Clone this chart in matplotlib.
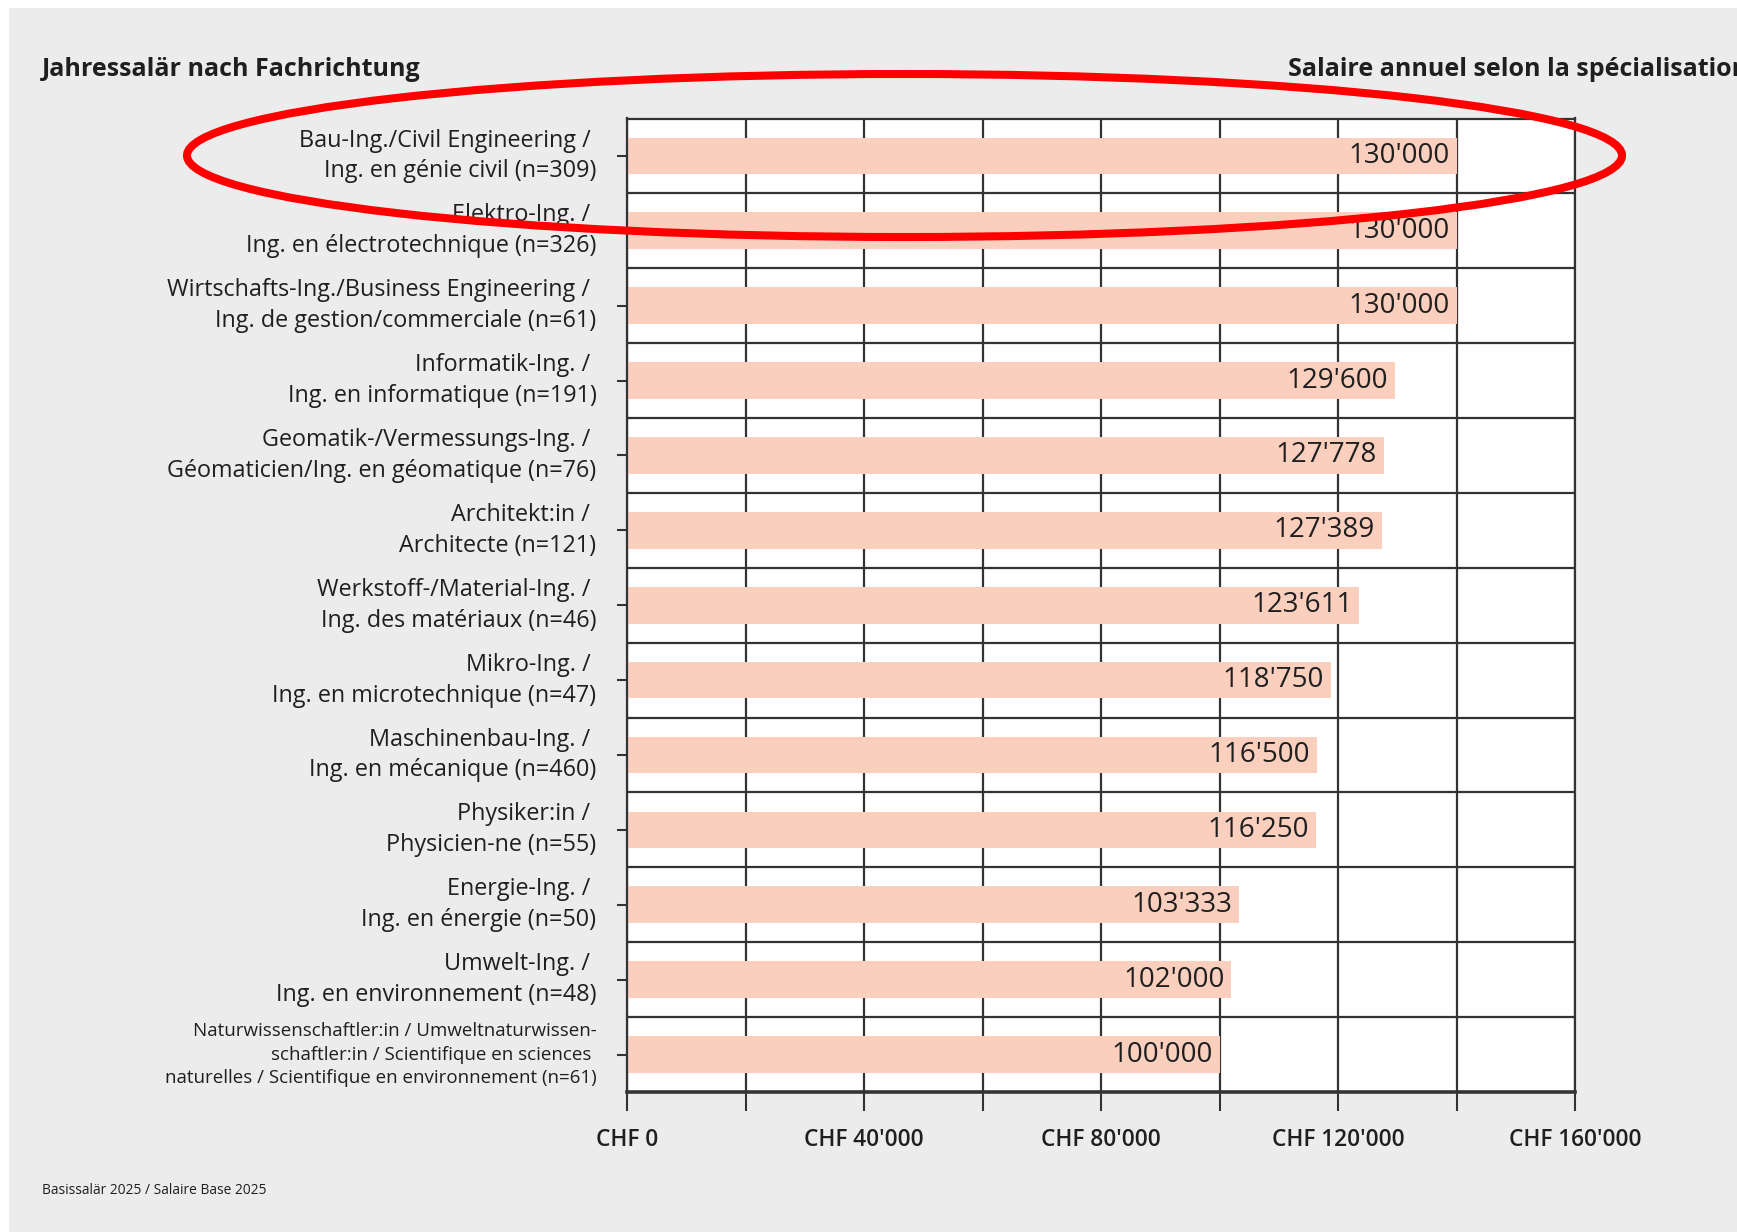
import matplotlib
matplotlib.use("Agg")
import matplotlib.pyplot as plt
from matplotlib.patches import Ellipse, Rectangle
from matplotlib.transforms import ScaledTranslation
import numpy as np

categories = [
    "Bau-Ing./Civil Engineering / \nIng. en génie civil (n=309)",
    "Elektro-Ing. / \nIng. en électrotechnique (n=326)",
    "Wirtschafts-Ing./Business Engineering / \nIng. de gestion/commerciale (n=61)",
    "Informatik-Ing. / \nIng. en informatique (n=191)",
    "Geomatik-/Vermessungs-Ing. / \nGéomaticien/Ing. en géomatique (n=76)",
    "Architekt:in / \nArchitecte (n=121)",
    "Werkstoff-/Material-Ing. / \nIng. des matériaux (n=46)",
    "Mikro-Ing. / \nIng. en microtechnique (n=47)",
    "Maschinenbau-Ing. / \nIng. en mécanique (n=460)",
    "Physiker:in / \nPhysicien-ne (n=55)",
    "Energie-Ing. / \nIng. en énergie (n=50)",
    "Umwelt-Ing. / \nIng. en environnement (n=48)",
    "Naturwissenschaftler:in / Umweltnaturwissen-\nschaftler:in / Scientifique en sciences \nnaturelles / Scientifique en environnement (n=61)",
]
# bar lengths as drawn in the picture
bar_values = [140000, 140000, 140000, 129600, 127778, 127389, 123611,
              118750, 116500, 116250, 103333, 102000, 100000]
# value labels as printed in the picture
value_labels = ["130'000", "130'000", "130'000", "129'600", "127'778", "127'389",
                "123'611", "118'750", "116'500", "116'250", "103'333", "102'000", "100'000"]
x_ticks = [0, 40000, 80000, 120000, 160000]
x_tick_labels = ["CHF 0", "CHF 40'000", "CHF 80'000", "CHF 120'000", "CHF 160'000"]
x_minor_ticks = [20000, 60000, 100000, 140000]

title_left = "Jahressalär nach Fachrichtung"
title_right = "Salaire annuel selon la spécialisation"
footer = "Basissalär 2025 / Salaire Base 2025"

FONT = "Open Sans"
TXT = "#1f1f1f"
LINE = "#333333"
BAR = "#facfbe"
BG = "#ebeceb"

W, H = 1737, 1232
fig = plt.figure(figsize=(W / 100, H / 100), dpi=100, facecolor="white")
fig.patches.append(Rectangle((9 / W, 0), 1, 1 - 8 / H, transform=fig.transFigure,
                             facecolor=BG, edgecolor="none", zorder=-10))

ax = fig.add_axes([627 / W, 140 / H, 948 / W, 973.5 / H])
ax.set_facecolor("white")
y = np.arange(len(categories))
ax.barh(y, bar_values, height=0.49, color=BAR, zorder=2)
ax.set_xlim(0, 160000)
ax.set_ylim(len(categories) - 0.5, -0.5)

ax.set_xticks(x_ticks)
ax.set_xticklabels(x_tick_labels, fontfamily=FONT, fontweight="semibold",
                   fontsize=16.3, color=TXT)
shift = ScaledTranslation(-3 / 72, 0, fig.dpi_scale_trans)
for lab in ax.get_xticklabels():
    lab.set_transform(lab.get_transform() + shift)
ax.set_xticks(x_minor_ticks, minor=True)
ax.set_yticks(y)
ax.set_yticklabels(categories, fontfamily=FONT, fontweight="medium",
                   fontsize=16.8, color=TXT)
for i, lab in enumerate(ax.get_yticklabels()):
    lab.set_linespacing(1.38)
    lab.set_verticalalignment("center")
    if i == len(categories) - 1:
        lab.set_fontsize(13.5)
        lab.set_linespacing(1.4)
ax.set_yticks(np.arange(0.5, len(categories) - 1, 1), minor=True)

ax.set_axisbelow(True)
ax.grid(axis="x", which="both", color=LINE, lw=1.6)
ax.grid(axis="y", which="minor", color=LINE, lw=1.6)

ax.tick_params(axis="x", which="both", length=14, width=1.5, color=LINE, pad=12)
ax.tick_params(axis="y", which="major", length=7, width=1.5, color=LINE, pad=15)
ax.tick_params(axis="y", which="minor", length=0)
for s in ax.spines.values():
    s.set_color(LINE)
    s.set_linewidth(1.6)
ax.spines["bottom"].set_linewidth(2.6)

for yi, v, lab in zip(y, bar_values, value_labels):
    ax.annotate(lab, (v, yi), xytext=(-5, 0), textcoords="offset points",
                ha="right", va="center", fontfamily=FONT, fontweight="medium",
                fontsize=20, color=TXT, zorder=3)

fig.text(42 / W, 1 - 70 / H, title_left, fontfamily=FONT, fontweight="bold",
         fontsize=18, color=TXT, ha="left", va="center")
fig.text(1288 / W, 1 - 70 / H, title_right, fontfamily=FONT, fontweight="bold",
         fontsize=18, color=TXT, ha="left", va="center")
fig.text(42 / W, 1 - 1191 / H, footer, fontfamily=FONT, fontsize=9.9,
         color=TXT, ha="left", va="center")

fig.patches.append(Ellipse((904.5 / W, 1 - 155.5 / H), 1435 / W, 163 / H,
                           transform=fig.transFigure, fill=False,
                           edgecolor="#ff0000", lw=5.8, zorder=20))

fig.savefig("out.png", dpi=100, facecolor=fig.get_facecolor())
